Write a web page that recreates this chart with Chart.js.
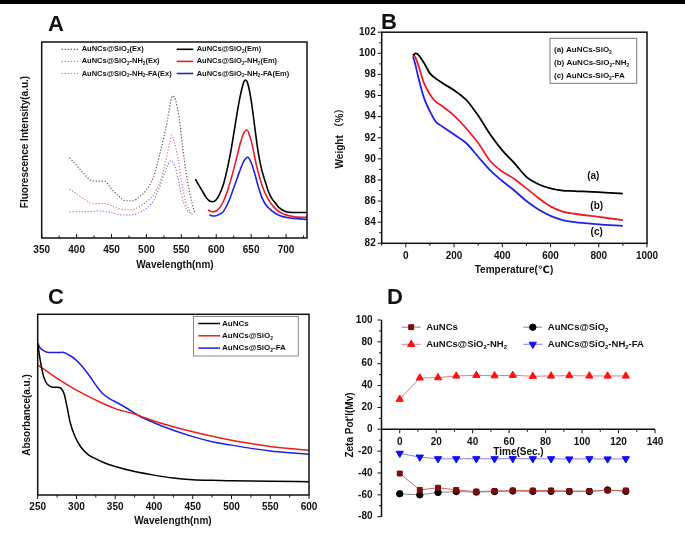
<!DOCTYPE html>
<html>
<head>
<meta charset="utf-8">
<script src="https://cdn.jsdelivr.net/npm/chart.js@4.4.1/dist/chart.umd.min.js"></script>
<style>
  html, body { margin: 0; padding: 0; background: #fff; }
  #fig { position: relative; width: 685px; height: 545px; overflow: hidden; }
  #fig canvas { position: absolute; left: 0; top: 0; }
  #bar { position: absolute; left: 0; top: 0; width: 685px; height: 4px; background: #000; }
</style>
</head>
<body>
<div id="fig">
  <canvas id="cA" width="685" height="545"></canvas>
  <canvas id="cB" width="685" height="545"></canvas>
  <canvas id="cC" width="685" height="545"></canvas>
  <canvas id="cD" width="685" height="545"></canvas>
  <div id="bar"></div>
</div>
<script>
const FONT = '"Liberation Sans", Arial, "DejaVu Sans", "Noto Sans CJK SC", sans-serif';
const W = 685, H = 545;

// ---- panel A: fluorescence (excitation dotted, emission solid) ----
const xTicksA = [350, 400, 450, 500, 550, 600, 650, 700];
const exNmSiO2 = [390,400,410,420,430,440,450,460,470,480,490,500,510,520,530,535,538,542,547,552,557,562,569];
const exSiO2   = [41,37,33,29.5,29,29,25,21.5,19,19,21,24.5,31,44,60,70,72.5,70,61,46,33,23,13];
const exNmNH2  = [390,400,410,420,430,440,450,460,470,480,490,500,510,520,527,533,536,540,545,550,556,564];
const exNH2    = [25,22.5,20,18,17.5,17.5,16.5,15,14.3,14.5,16,18.5,22,29,38,48,52.5,49,41,30,19,12.5];
const exNmFA   = [390,400,410,420,430,440,450,460,470,480,490,500,510,520,528,535,540,545,550,557,566];
const exFA     = [13.4,13.4,13.4,13.5,13.8,13.6,13,12,11.7,11.8,13,15,19,27,35,39.4,37,31,22,15,12];
const emNmSiO2 = [570,575,580,585,590,595,600,605,610,615,620,625,630,635,640,642,645,650,655,660,665,670,675,680,685,690,700,710,730];
const emSiO2   = [30,27,24,21,19,18.5,19.5,22.5,27,34,42.5,53,64,73.5,80,80.6,79,70.4,57,44,35,29,23.5,20,17.7,15.5,13.4,13,13];
const emNmNH2  = [588,595,600,605,610,615,620,625,630,635,640,644,648,652,657,662,668,675,682,690,700,710,730];
const emNH2    = [14.3,13.4,13.8,15.5,18.5,23,28.5,35,42,49,54,55.1,52,46.6,38,31,24.5,19.5,16,13.4,11.8,10.9,10.5];
const emNmFA   = [590,597,603,610,615,620,625,630,635,640,645,650,655,660,665,670,676,685,695,710,730];
const emFA     = [11.7,11.2,11.8,13.4,16.5,20.5,25.5,30.5,35.5,39.5,41.2,38.5,33,26.5,21,17.5,15,12.5,10.9,10,9.5];

// ---- panel B: TGA ----
const xTicksB = [0, 200, 400, 600, 800, 1000];
const yTicksB = [82, 84, 86, 88, 90, 92, 94, 96, 98, 100, 102];
const tempB  = [30,40,50,75,100,125,150,200,250,300,350,400,450,500,550,600,650,700,800,900];
const wtSiO2 = [99.8,100,99.9,99.1,98.1,97.6,97.2,96.5,95.6,94.1,92.3,90.8,89.6,88.3,87.6,87.2,87.0,86.95,86.85,86.7];
const wtNH2  = [99.9,99.6,99.0,97.2,96.1,95.4,95.0,94.1,92.9,91.5,89.8,88.8,88.1,87.2,86.3,85.5,85.0,84.8,84.5,84.2];
const wtFA   = [99.7,98.9,97.9,95.8,94.5,93.5,93.1,92.3,91.5,90.2,88.9,87.9,87.0,86.0,85.2,84.6,84.2,84.0,83.8,83.65];

// ---- panel C: UV-vis ----
const xTicksC = [250, 300, 350, 400, 450, 500, 550, 600];
const nmAu   = [250,252,255,258,262,268,275,280,284,288,292,298,305,315,325,335,350,375,400,425,450,475,500,550,600];
const absAu  = [84,78,70.5,65,61.5,59.8,59.6,59,56,48.5,40,32.5,27,22.3,20,18,15.8,13,11,9.4,8.5,8.1,7.9,7.6,7.4];
const nmSiO2 = [250,275,300,325,350,375,380,400,425,450,475,500,525,550,575,600];
const absSiO2 = [72,64.5,58,52.5,47.8,44.8,44,41,37.8,35,32.5,30.3,28.5,26.9,25.7,24.7];
const nmFA   = [250,253,258,265,275,282,290,300,308,316,325,333,342,355,365,380,400,425,450,475,500,525,550,575,600];
const absFA  = [84,81.5,79.8,78.8,78.8,79,77.6,74.5,70.8,66.4,60.8,56.5,53.5,50.5,48,44,40,35.8,32.3,29.5,27.6,25.8,24.4,23.4,22.6];

// ---- panel D: zeta potential ----
const xTicksD = [0, 20, 40, 60, 80, 100, 120, 140];
const yTicksD = [-80, -60, -40, -20, 0, 20, 40, 60, 80, 100];
const timeD  = [0, 11, 21, 31, 42, 52, 62, 73, 83, 93, 104, 114, 124];
const zAu    = [-40.5,-55.5,-53.5,-55.5,-57,-56.5,-56,-56,-56,-56.5,-56.5,-56,-56];
const zSiO2  = [-59,-60,-57.8,-57,-57.5,-57,-56.5,-56.8,-56.8,-57,-57,-55.5,-56.8];
const zNH2   = [27.5,47,47.3,48.8,49.4,49,49.4,48.5,48.8,49.1,48.8,48.8,48.8];
const zFA    = [-22,-25.5,-27,-27,-27,-27,-26.8,-27,-27,-27.2,-27,-27.2,-27];

// text with "₂" drawn as a lowered small 2
function rich(ctx, text, x, y, size, align) {
  const parts = [];
  for (const ch of text) {
    const sub = ch === '₂';
    const last = parts[parts.length - 1];
    if (last && last.sub === sub) last.t += sub ? '2' : ch;
    else parts.push({ t: sub ? '2' : ch, sub });
  }
  const f = s => `bold ${s}px ${FONT}`;
  let w = 0;
  parts.forEach(p => { ctx.font = f(p.sub ? size * 0.62 : size); p.w = ctx.measureText(p.t).width; w += p.w; });
  let cx = align === 'center' ? x - w / 2 : align === 'right' ? x - w : x;
  ctx.textBaseline = 'middle'; ctx.textAlign = 'left'; ctx.fillStyle = '#111';
  parts.forEach(p => {
    ctx.font = f(p.sub ? size * 0.62 : size);
    ctx.fillText(p.t, cx, p.sub ? y + size * 0.32 : y);
    cx += p.w;
  });
}
function vrich(ctx, text, x, y, size) {
  ctx.save(); ctx.translate(x, y); ctx.rotate(-Math.PI / 2);
  rich(ctx, text, 0, 0, size, 'center');
  ctx.restore();
}

function minors(maj, lo, hi) {
  const h = (maj[1] - maj[0]) / 2, out = [];
  for (let v = maj[0] - h; v <= hi + 1e-9; v += 2 * h) if (v >= lo - 1e-9) out.push(v);
  return out;
}
function ticksX(ctx, sc, y, vals, len, dir) {
  ctx.beginPath();
  vals.forEach(v => { const p = sc.getPixelForValue(v); ctx.moveTo(p, y); ctx.lineTo(p, y + dir * len); });
  ctx.stroke();
}
function ticksY(ctx, sc, x, vals, len, dir) {
  ctx.beginPath();
  vals.forEach(v => { const p = sc.getPixelForValue(v); ctx.moveTo(x, p); ctx.lineTo(x + dir * len, p); });
  ctx.stroke();
}
function frame(ctx, a) {
  ctx.lineWidth = 1.5; ctx.strokeStyle = '#111';
  ctx.strokeRect(a.left, a.top, a.right - a.left, a.bottom - a.top);
  ctx.lineWidth = 1;
}
function sample(ctx, ds, x0, x1, y) {
  ctx.save();
  ctx.strokeStyle = ds.borderColor; ctx.lineWidth = ds.borderWidth; ctx.setLineDash(ds.borderDash || []);
  ctx.beginPath(); ctx.moveTo(x0, y); ctx.lineTo(x1, y); ctx.stroke();
  ctx.restore();
}

function line(label, xs, ys, color, width, dash) {
  return {
    label, data: xs.map((x, i) => ({ x, y: ys[i] })), showLine: true,
    borderColor: color, borderWidth: width, borderDash: dash || [],
    pointRadius: 0, cubicInterpolationMode: 'monotone'
  };
}
function marked(label, ys, lineCol, mk, style, r, rot) {
  return {
    label, data: timeD.map((x, i) => ({ x, y: ys[i] })), showLine: true,
    borderColor: lineCol, borderWidth: 1, pointStyle: style, pointRadius: r, pointRotation: rot || 0,
    pointBackgroundColor: mk, pointBorderColor: mk, pointBorderWidth: 1
  };
}

// x axis at the bottom fills the space below the plot (its labels are clipped to that box);
// an x axis placed at a value takes no space.
function axisOpt(ax, o, box) {
  const floating = typeof o.position === 'object';
  const opt = {
    type: 'linear', min: o.min, max: o.max,
    position: o.position || (ax === 'x' ? 'bottom' : 'left'),
    afterFit: s => { if (ax === 'x') s.height = floating ? 0 : H - box.bottom; else s.width = box.left; },
    grid: { display: false, drawTicks: false },
    border: { display: false },
    ticks: {
      display: !!o.ticks, padding: o.pad || 6, color: '#111', autoSkip: false, maxRotation: 0,
      font: { family: FONT, size: 10, weight: 'bold' }, callback: v => String(v)
    }
  };
  if (o.ticks) opt.afterBuildTicks = s => { s.ticks = o.ticks.map(v => ({ value: v })); };
  return opt;
}

function mkPanel(id, box, xo, yo, datasets, draw) {
  const floating = typeof xo.position === 'object';
  return new Chart(document.getElementById(id), {
    type: 'scatter',
    data: { datasets },
    options: {
      responsive: false, animation: false, events: [],
      layout: { padding: { left: 0, top: box.top, right: W - box.right, bottom: floating ? H - box.bottom : 0 } },
      plugins: { legend: { display: false }, tooltip: { enabled: false } },
      scales: { x: axisOpt('x', xo, box), y: axisOpt('y', yo, box) }
    },
    plugins: [{ id: 'deco' + id, afterDraw: c => { const ctx = c.ctx; ctx.save(); draw(c, ctx); ctx.restore(); } }]
  });
}

// ---- A ----
const dot = [1.2, 1.8];
mkPanel('cA', { left: 41.7, top: 42, right: 307, bottom: 238 },
  { min: 350, max: 730, ticks: xTicksA, pad: 6 }, { min: 0, max: 100 },
  [
    line('AuNCs@SiO₂(Ex)', exNmSiO2, exSiO2, '#555', 1.2, dot),
    line('AuNCs@SiO₂-NH₂(Ex)', exNmNH2, exNH2, '#e07272', 1.2, dot),
    line('AuNCs@SiO₂-NH₂-FA(Ex)', exNmFA, exFA, '#7a7ae0', 1.2, dot),
    line('AuNCs@SiO₂(Em)', emNmSiO2, emSiO2, '#000', 1.6),
    line('AuNCs@SiO₂-NH₂(Em)', emNmNH2, emNH2, '#ee1c24', 1.6),
    line('AuNCs@SiO₂-NH₂-FA(Em)', emNmFA, emFA, '#2222e6', 1.6)
  ],
  (c, ctx) => {
    const a = c.chartArea, sx = c.scales.x;
    frame(ctx, a);
    ticksX(ctx, sx, a.bottom, xTicksA, 4, -1);
    ticksX(ctx, sx, a.bottom, minors(xTicksA, 350, 730), 2.5, -1);
    rich(ctx, 'A', 56, 25, 22, 'center');
    vrich(ctx, 'Fluorescence Intensity(a.u.)', 25, 142, 10);
    rich(ctx, 'Wavelength(nm)', 175, 265, 10, 'center');
    c.data.datasets.forEach((ds, i) => {
      const x0 = i < 3 ? 61.7 : 176.7, y = 49.3 + (i % 3) * 12.1;
      sample(ctx, ds, x0, x0 + 16.6, y);
      rich(ctx, ds.label, x0 + 20, y, 7.5, 'left');
    });
  });

// ---- B ----
mkPanel('cB', { left: 381.7, top: 32.2, right: 647, bottom: 243.3 },
  { min: -100, max: 1000, ticks: xTicksB, pad: 7 }, { min: 82, max: 102, ticks: yTicksB, pad: 6 },
  [
    line('(a) AuNCs-SiO₂', tempB, wtSiO2, '#000', 1.8),
    line('(b) AuNCs-SiO₂-NH₂', tempB, wtNH2, '#ee1c24', 1.8),
    line('(c) AuNCs-SiO₂-FA', tempB, wtFA, '#2323e6', 1.8)
  ],
  (c, ctx) => {
    const a = c.chartArea, sx = c.scales.x, sy = c.scales.y;
    frame(ctx, a);
    ticksX(ctx, sx, a.bottom, xTicksB, 4, 1);
    ticksX(ctx, sx, a.bottom, minors(xTicksB, -100, 1000), 2.5, 1);
    ticksY(ctx, sy, a.left, yTicksB, 4, -1);
    ticksY(ctx, sy, a.left, minors(yTicksB, 82, 102), 2.5, -1);
    rich(ctx, 'B', 389, 22.5, 22, 'center');
    vrich(ctx, 'Weight （%）', 340, 136, 10);
    rich(ctx, 'Temperature(℃)', 514, 270, 10, 'center');
    ctx.strokeStyle = '#777'; ctx.lineWidth = 1;
    ctx.strokeRect(550, 38.3, 86.7, 45);
    c.data.datasets.forEach((ds, i) => rich(ctx, ds.label, 554, 50 + i * 12.8, 8, 'left'));
    rich(ctx, '(a)', 593.3, 176.7, 10, 'center');
    rich(ctx, '(b)', 596.7, 206.7, 10, 'center');
    rich(ctx, '(c)', 596.7, 232.3, 10, 'center');
  });

// ---- C ----
mkPanel('cC', { left: 37.7, top: 314.3, right: 309, bottom: 495 },
  { min: 250, max: 600, ticks: xTicksC, pad: 6 }, { min: 0, max: 100 },
  [
    line('AuNCs', nmAu, absAu, '#000', 1.5),
    line('AuNCs@SiO₂', nmSiO2, absSiO2, '#e8201c', 1.5),
    line('AuNCs@SiO₂-FA', nmFA, absFA, '#2020e0', 1.5)
  ],
  (c, ctx) => {
    const a = c.chartArea, sx = c.scales.x;
    frame(ctx, a);
    ticksX(ctx, sx, a.bottom, xTicksC, 4, 1);
    ticksX(ctx, sx, a.bottom, minors(xTicksC, 250, 600), 2.5, 1);
    rich(ctx, 'C', 56, 298, 22, 'center');
    vrich(ctx, 'Absorbance(a.u.)', 27, 415, 10);
    rich(ctx, 'Wavelength(nm)', 173, 521.7, 10, 'center');
    ctx.strokeStyle = '#888'; ctx.lineWidth = 1;
    ctx.strokeRect(193.5, 316.5, 104.8, 39.5);
    c.data.datasets.forEach((ds, i) => {
      const y = 323.5 + i * 12.3;
      sample(ctx, ds, 198.3, 220, y);
      rich(ctx, ds.label, 222, y, 8, 'left');
    });
  });

// ---- D ----
mkPanel('cD', { left: 381.5, top: 320, right: 655, bottom: 516.7 },
  { min: -10, max: 140, ticks: xTicksD, pad: 7, position: { y: 0 } }, { min: -80, max: 100, ticks: yTicksD, pad: 9 },
  [
    marked('AuNCs', zAu, '#c86a6a', '#7a0c0c', 'rect', 3.5),
    marked('AuNCs@SiO₂', zSiO2, '#888', '#000', 'circle', 3.2),
    marked('AuNCs@SiO₂-NH₂', zNH2, '#f07a7a', '#ff1010', 'triangle', 4.2),
    marked('AuNCs@SiO₂-NH₂-FA', zFA, '#8080f0', '#1010f0', 'triangle', 4.2, 180)
  ],
  (c, ctx) => {
    const a = c.chartArea, sx = c.scales.x, sy = c.scales.y, y0 = sy.getPixelForValue(0);
    ctx.strokeStyle = '#111'; ctx.lineWidth = 1.5;
    ctx.beginPath();
    ctx.moveTo(a.left, a.top); ctx.lineTo(a.left, a.bottom);
    ctx.moveTo(a.left, y0); ctx.lineTo(a.right, y0);
    ctx.stroke();
    ctx.lineWidth = 1;
    ticksX(ctx, sx, y0, xTicksD, 4, 1);
    ticksX(ctx, sx, y0, minors(xTicksD, -10, 140), 2.5, 1);
    ticksY(ctx, sy, a.left, yTicksD, 4, -1);
    ticksY(ctx, sy, a.left, minors(yTicksD, -80, 100), 2.5, -1);
    rich(ctx, 'D', 395, 298, 22, 'center');
    vrich(ctx, "Zeta Pot'l(Mv)", 350, 425, 10);
    rich(ctx, 'Time(Sec.)', 518.5, 452, 10, 'center');
    c.data.datasets.forEach((ds, i) => {
      const x0 = i % 2 ? 523.3 : 401.7, y = i < 2 ? 327.2 : 344.3;
      sample(ctx, ds, x0, x0 + 19, y);
      ctx.fillStyle = ds.pointBackgroundColor; ctx.strokeStyle = ds.pointBorderColor;
      Chart.helpers.drawPoint(ctx, { pointStyle: ds.pointStyle, radius: ds.pointRadius, rotation: ds.pointRotation, borderWidth: 1 }, x0 + 9.5, y);
      rich(ctx, ds.label, x0 + 24.5, y, 9.5, 'left');
    });
  });
</script>
</body>
</html>
